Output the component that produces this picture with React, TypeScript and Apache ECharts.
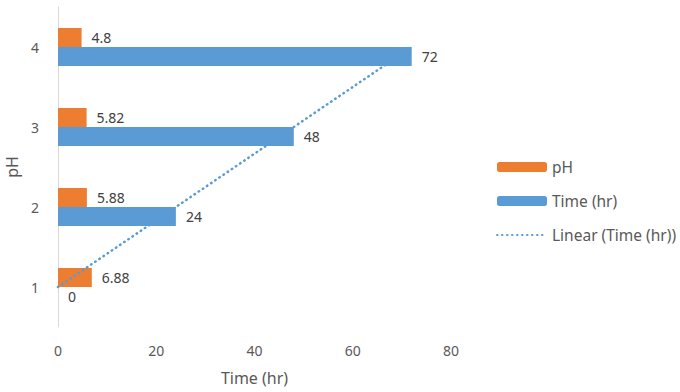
import React, { useEffect, useRef } from "react";
import * as echarts from "echarts";

const categories = ["1", "2", "3", "4"];
const phValues = [6.88, 5.88, 5.82, 4.8];
const timeValues = [0, 24, 48, 72];
const trendValues = [0, 24, 48, 72];
const xTicks = [0, 20, 40, 60, 80];

const FONT = "Noto Sans";

export default function App() {
  const ref = useRef<HTMLDivElement>(null);
  useEffect(() => {
    const chart = echarts.init(ref.current!, null, { renderer: "svg" });
    chart.setOption({
      animation: false,
      textStyle: { fontFamily: FONT },
      grid: { left: 58, right: 229, top: 7, bottom: 65, containLabel: false, outerBoundsMode: "none" },
      legend: {
        orient: "vertical",
        left: 491,
        top: 154,
        itemWidth: 50,
        itemHeight: 10,
        itemGap: 18,
        textStyle: { color: "#595959", fontSize: 15.5, fontFamily: FONT },
        data: [
          { name: "pH" },
          { name: "Time (hr)" },
          { name: "Linear (Time (hr))", itemStyle: { opacity: 0 } },
        ],
      },
      xAxis: {
        type: "value",
        min: xTicks[0],
        max: xTicks[xTicks.length - 1],
        interval: 20,
        name: "Time (hr)",
        nameLocation: "middle",
        nameGap: 43,
        nameTextStyle: { color: "#595959", fontSize: 16, fontFamily: FONT },
        axisLine: { show: false },
        axisTick: { show: false },
        splitLine: { show: false },
        axisLabel: { color: "#595959", fontSize: 14, margin: 16, fontFamily: FONT },
      },
      yAxis: {
        type: "category",
        data: categories,
        name: "pH",
        nameLocation: "middle",
        nameGap: 36,
        nameRotate: 90,
        nameTextStyle: { color: "#595959", fontSize: 16, fontFamily: FONT },
        axisLine: { show: true, lineStyle: { color: "#d9d9d9", width: 1 } },
        axisTick: { show: false },
        axisLabel: { color: "#595959", fontSize: 14, margin: 19, fontFamily: FONT },
      },
      series: [
        {
          name: "pH",
          type: "bar",
          data: phValues,
          barWidth: 19,
          barGap: "0%",
          z: 1,
          itemStyle: { color: "#ED7D31" },
          label: {
            show: true,
            position: "right",
            distance: 10,
            color: "#404040",
            fontSize: 14,
            fontFamily: FONT,
          },
        },
        {
          name: "Time (hr)",
          type: "bar",
          data: timeValues,
          barWidth: 19,
          barGap: "0%",
          z: 3,
          itemStyle: { color: "#5B9BD5" },
          label: {
            show: true,
            position: "right",
            distance: 10,
            color: "#404040",
            fontSize: 14,
            fontFamily: FONT,
          },
        },
        {
          name: "Linear (Time (hr))",
          type: "line",
          data: trendValues,
          symbol: "none",
          z: 2,
          itemStyle: { color: "#5B9BD5" },
          lineStyle: { color: "#5B9BD5", width: 2.5, type: [0.5, 4.5], cap: "round" },
        },
      ],
    });
    return () => chart.dispose();
  }, []);
  return <div ref={ref} style={{ width: 680, height: 392, position: "absolute", left: 0, top: 0 }} />;
}
